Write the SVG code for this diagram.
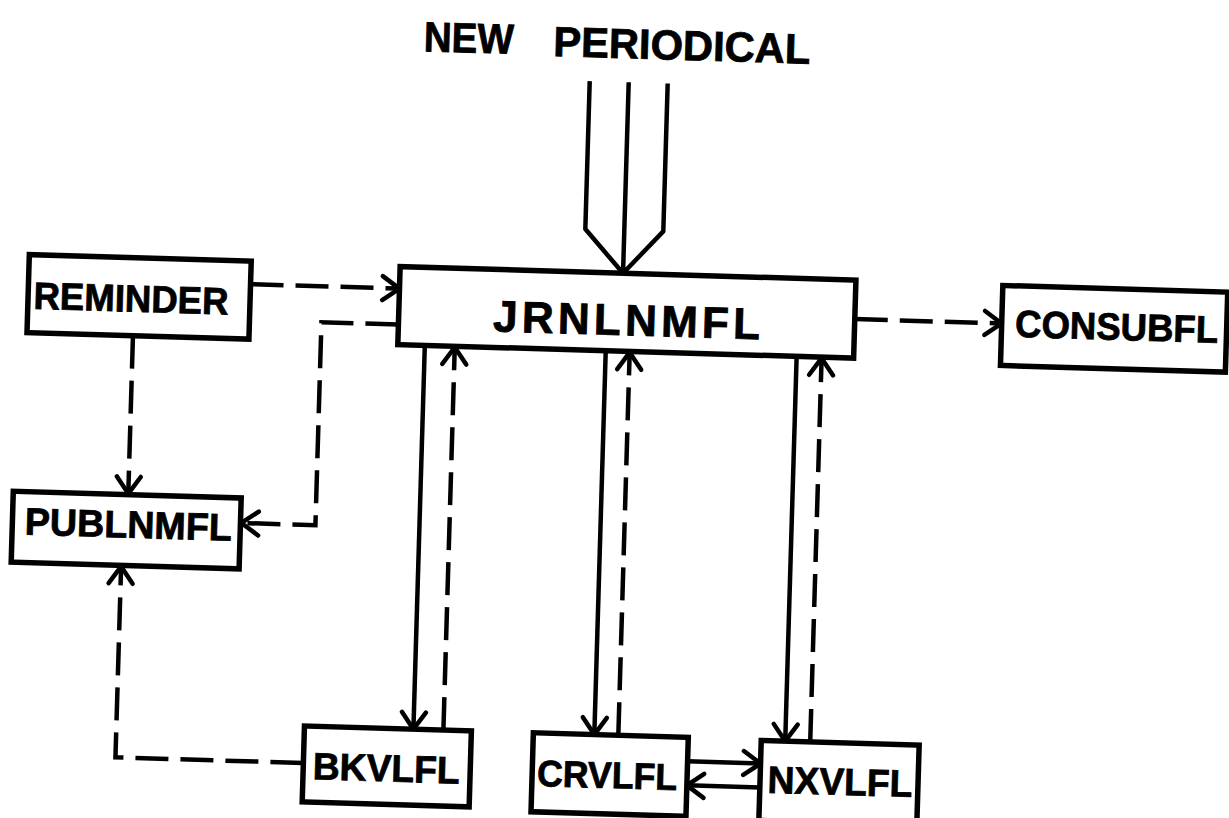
<svg xmlns="http://www.w3.org/2000/svg" width="1229" height="818" viewBox="0 0 1229 818">
<style>
.box{fill:#fff;stroke:#000;stroke-width:5.5}
.lbl{font-family:"Liberation Sans",Arial,sans-serif;font-weight:bold;fill:#000;stroke:#000;stroke-width:0.8;text-anchor:middle}
.ln{fill:none;stroke:#000;stroke-width:4.5}
.dash{stroke-dasharray:33 12}
</style>
<defs>
<marker id="arr" markerUnits="userSpaceOnUse" viewBox="-22 -16 26 32" markerWidth="26" markerHeight="32" refX="0" refY="0" orient="auto">
<path d="M-17,-12 L0,0 L-17,12" fill="none" stroke="#000" stroke-width="4.5" stroke-linejoin="round" stroke-linecap="round" stroke-dasharray="none"/>
</marker>
</defs>
<rect width="1229" height="818" fill="#fff"/>
<g transform="rotate(1.7 614 409)">
<text class="lbl" x="458" y="57" font-size="42" textLength="90" lengthAdjust="spacingAndGlyphs">NEW</text>
<text class="lbl" x="671" y="58" font-size="42" textLength="257" lengthAdjust="spacingAndGlyphs">PERIODICAL</text>
<g id="connectors">
<path class="ln" d="M580,82 V230 L619,273 L658,230 V82 M619,82 V273" stroke-linejoin="round"/>
<path class="ln dash" d="M247,295 H396" marker-end="url(#arr)"/>
<path class="ln dash" d="M396,331 H319 V534 H245" marker-end="url(#arr)"/>
<path class="ln dash" d="M131,350 V508" marker-end="url(#arr)"/>
<path class="ln dash" d="M314,772 H126 V581" marker-end="url(#arr)"/>
<path class="ln dash" d="M852,312 H999" marker-end="url(#arr)"/>
<path class="ln" d="M423,351 V735" marker-end="url(#arr)"/>
<path class="ln dash" d="M453,735 V352" marker-end="url(#arr)"/>
<path class="ln" d="M604,351 V735" marker-end="url(#arr)"/>
<path class="ln dash" d="M628,735 V352" marker-end="url(#arr)"/>
<path class="ln" d="M795,351 V736" marker-end="url(#arr)"/>
<path class="ln dash" d="M820,736 V352" marker-end="url(#arr)"/>
<path class="ln" d="M698,759 H771" marker-end="url(#arr)"/>
<path class="ln" d="M771,783 H698" marker-end="url(#arr)"/>
</g>
<g id="reminder">
<rect class="box" x="25" y="272" width="222" height="78"/>
<text class="lbl" x="128" y="326" font-size="38" textLength="195" lengthAdjust="spacingAndGlyphs">REMINDER</text>
</g>
<g id="publnmfl">
<rect class="box" x="16" y="509" width="228" height="71"/>
<text class="lbl" x="132" y="552" font-size="38" textLength="207" lengthAdjust="spacingAndGlyphs">PUBLNMFL</text>
</g>
<g id="jrnlnmfl">
<rect class="box" x="396" y="273" width="456" height="78"/>
<text class="lbl" x="624" y="335" font-size="44" textLength="267" lengthAdjust="spacing">JRNLNMFL</text>
</g>
<g id="consubfl">
<rect class="box" x="999" y="274" width="225" height="80"/>
<text class="lbl" x="1114" y="325" font-size="38" textLength="203" lengthAdjust="spacingAndGlyphs">CONSUBFL</text>
</g>
<g id="bkvlfl">
<rect class="box" x="314" y="735" width="167" height="76"/>
<text class="lbl" x="397" y="788" font-size="38" textLength="147" lengthAdjust="spacingAndGlyphs">BKVLFL</text>
</g>
<g id="crvlfl">
<rect class="box" x="543" y="735" width="155" height="79"/>
<text class="lbl" x="618" y="788" font-size="37" textLength="140" lengthAdjust="spacingAndGlyphs">CRVLFL</text>
</g>
<g id="nxvlfl">
<rect class="box" x="771" y="736" width="158" height="80"/>
<text class="lbl" x="851" y="788" font-size="38" textLength="145" lengthAdjust="spacingAndGlyphs">NXVLFL</text>
</g>
</g>
</svg>
